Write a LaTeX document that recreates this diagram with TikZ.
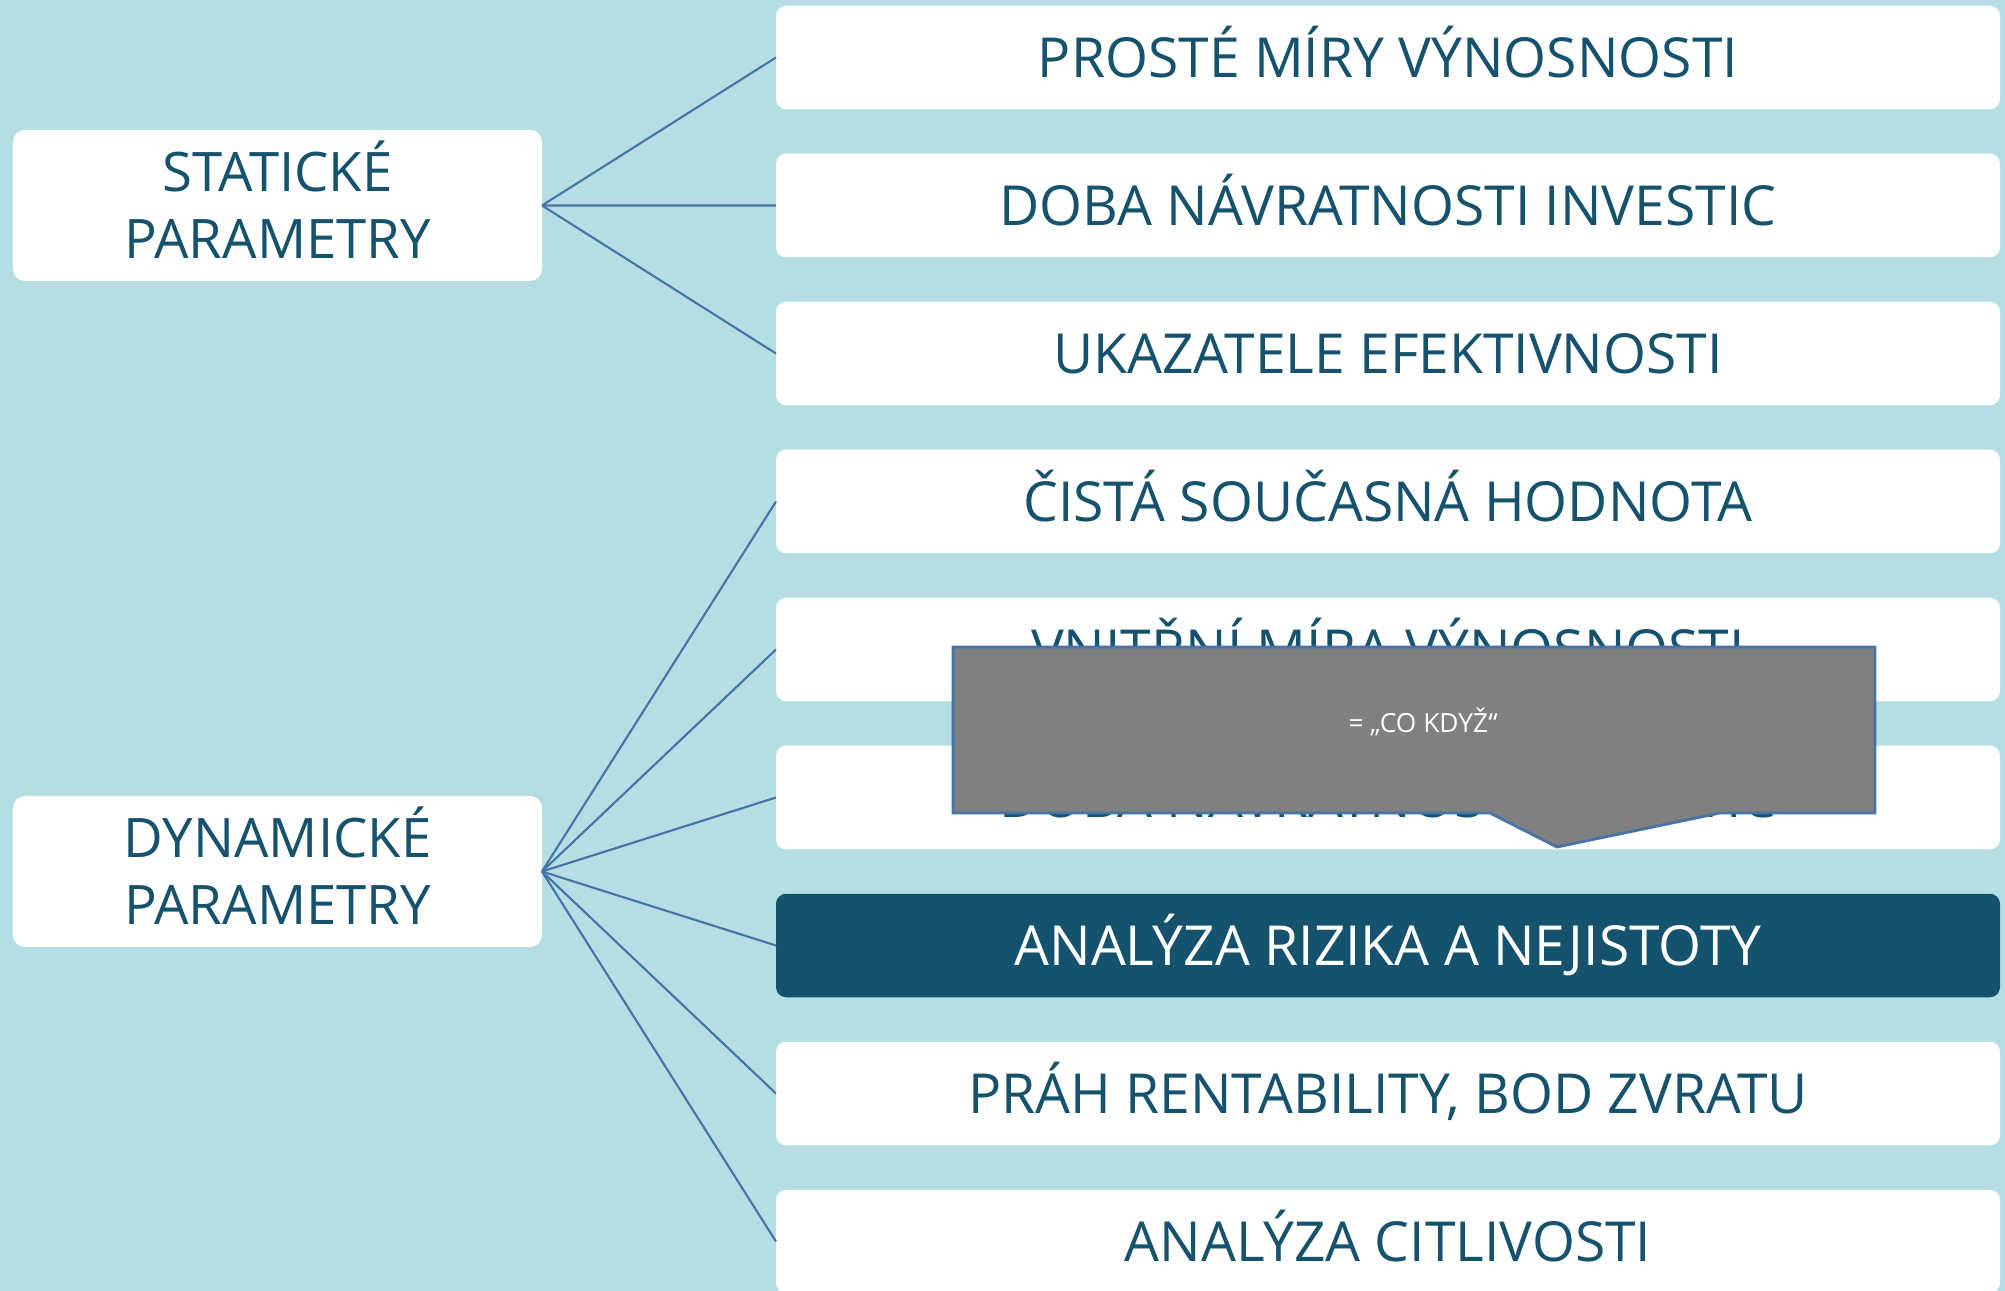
\documentclass[tikz,border=0pt]{standalone}
\usepackage{fontspec}
\setmainfont{Open Sans}
\usetikzlibrary{positioning}
\definecolor{pozadi}{RGB}{180,222,228}
\definecolor{tmava}{RGB}{21,82,110}
\definecolor{cara}{RGB}{70,115,168}
\definecolor{seda}{RGB}{128,128,128}

\begin{document}
\begin{tikzpicture}[
	polozka/.style={fill=white, rounded corners=0.1cm, minimum width=12.24cm, minimum height=1.035cm, inner sep=0pt, outer sep=0pt, text height=11.2pt, text depth=0pt, text=tmava, font=\fontsize{15.7}{18}\selectfont},
	vybrana/.style={polozka, fill=tmava, text=white},
	skupina/.style={fill=white, rounded corners=0.12cm, minimum width=5.29cm, minimum height=1.51cm, inner sep=0pt, outer sep=0pt, align=center, text height=29.9pt, text depth=0pt, text=tmava, font=\fontsize{15.5}{18.8}\selectfont},
	vetev/.style={cara, line width=0.6pt},
	bublina/.style={fill=seda, draw=cara, line width=0.8pt},
	node distance=0.445cm]
	\fill [pozadi] (0,0) rectangle (20.05,-12.91);
	\useasboundingbox (0,0) rectangle (20.05,-12.91);
	\clip (0,0) rectangle (20.05,-12.91);
% UKAZATELE
	\node [polozka] (mira) at (13.88,-0.575) {PROSTÉ MÍRY VÝNOSNOSTI};
	\node [polozka, below=of mira] (doba) {DOBA NÁVRATNOSTI INVESTIC};
	\node [polozka, below=of doba] (efekt) {UKAZATELE EFEKTIVNOSTI};
	\node [polozka, below=of efekt] (csh) {ČISTÁ SOUČASNÁ HODNOTA};
	\node [polozka, below=of csh] (vmv) {VNITŘNÍ MÍRA VÝNOSNOSTI};
	\node [polozka, below=of vmv] (dobad) {DOBA NÁVRATNOSTI INVESTIC};
	\node [vybrana, below=of dobad] (riziko) {ANALÝZA RIZIKA A NEJISTOTY};
	\node [polozka, below=of riziko] (prah) {PRÁH RENTABILITY, BOD ZVRATU};
	\node [polozka, below=of prah] (citl) {ANALÝZA CITLIVOSTI};
% PARAMETRY
	\node [skupina] (stat) at (2.775,-2.055) {STATICKÉ\\PARAMETRY};
	\node [skupina] (dyn) at (2.775,-8.715) {DYNAMICKÉ\\PARAMETRY};
	\draw [vetev] (stat.east) -- (mira.west);
	\draw [vetev] (stat.east) -- (doba.west);
	\draw [vetev] (stat.east) -- (efekt.west);
	\draw [vetev] (dyn.east) -- (csh.west);
	\draw [vetev] (dyn.east) -- (vmv.west);
	\draw [vetev] (dyn.east) -- (dobad.west);
	\draw [vetev] (dyn.east) -- (riziko.west);
	\draw [vetev] (dyn.east) -- (prah.west);
	\draw [vetev] (dyn.east) -- (citl.west);
% POZNAMKA
	\draw [bublina] (9.53,-6.47) -- (18.75,-6.47) -- (18.75,-8.13) -- (17.20,-8.13) -- (15.57,-8.47) -- (14.90,-8.13) -- (9.53,-8.13) -- cycle;
	\node [text=white, font=\fontsize{7.5}{9}\selectfont] (kdyz) at (14.23,-7.22) {= „CO KDYŽ“};
\end{tikzpicture}
\end{document}
